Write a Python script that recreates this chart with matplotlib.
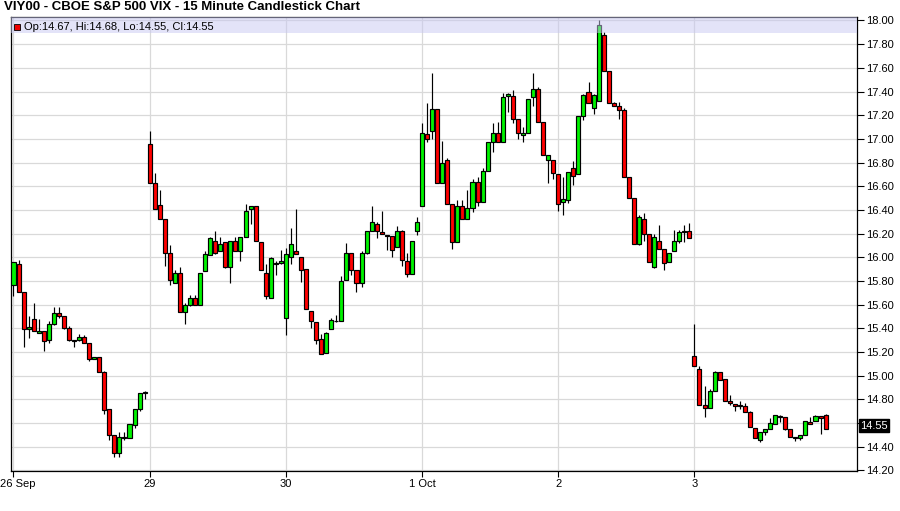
import matplotlib
matplotlib.use('Agg')
import matplotlib.pyplot as plt
import matplotlib.transforms as mtransforms
from matplotlib.patches import Rectangle

plt.rcParams['font.family'] = ['Liberation Sans', 'DejaVu Sans']

title = "VIY00 - CBOE S&P 500 VIX - 15 Minute Candlestick Chart"
legend_text = "Op:14.67, Hi:14.68, Lo:14.55, Cl:14.55"
day_labels = ['26 Sep', '29', '30', '1 Oct', '2', '3']
bars_per_day = 27
last_price = "14.55"

# one row per trading day (27 fifteen-minute bars each)
opens = [
    15.77, 15.94, 15.71, 15.39, 15.48, 15.36, 15.38, 15.30, 15.44, 15.53, 15.50, 15.40, 15.30, 15.30, 15.33, 15.28, 15.14, 15.16, 15.03, 14.72, 14.50, 14.35, 14.48, 14.47, 14.58, 14.72, 14.85,
    16.96, 16.63, 16.44, 16.32, 16.04, 15.78, 15.87, 15.54, 15.60, 15.66, 15.60, 15.88, 16.02, 16.14, 16.05, 16.13, 15.92, 16.14, 16.05, 16.17, 16.41, 16.43, 16.13, 15.87, 15.66, 15.95, 15.95,
    15.49, 16.00, 16.05, 16.00, 15.90, 15.55, 15.45, 15.31, 15.19, 15.39, 15.46, 15.46, 15.81, 16.04, 15.89, 15.78, 16.04, 16.22, 16.28, 16.21, 16.19, 16.18, 16.09, 16.22, 15.97, 15.86, 16.22,
    16.43, 17.04, 17.07, 17.25, 16.63, 16.82, 16.45, 16.13, 16.43, 16.32, 16.42, 16.64, 16.47, 16.73, 16.97, 17.05, 16.97, 17.36, 17.36, 17.17, 17.03, 17.05, 17.35, 17.42, 17.14, 16.82, 16.82,
    16.70, 16.47, 16.48, 16.75, 16.70, 17.19, 17.40, 17.26, 17.32, 17.88, 17.57, 17.30, 17.28, 17.24, 16.68, 16.50, 16.11, 16.32, 16.20, 15.92, 16.14, 16.07, 15.96, 16.05, 16.14, 16.21, 16.22,
    15.17, 15.06, 14.75, 14.73, 14.87, 15.03, 14.97, 14.79, 14.76, 14.75, 14.74, 14.69, 14.56, 14.46, 14.52, 14.55, 14.59, 14.66, 14.65, 14.55, 14.48, 14.47, 14.50, 14.61, 14.62, 14.66, 14.67,
]
highs = [
    15.96, 15.98, 15.71, 15.50, 15.61, 15.48, 15.38, 15.46, 15.58, 15.58, 15.50, 15.42, 15.30, 15.35, 15.34, 15.28, 15.16, 15.16, 15.04, 14.72, 14.50, 14.52, 14.52, 14.59, 14.72, 14.85, 14.87,
    17.07, 16.71, 16.57, 16.32, 16.10, 15.89, 15.92, 15.61, 15.68, 15.68, 15.87, 16.05, 16.17, 16.22, 16.17, 16.13, 16.14, 16.17, 16.17, 16.45, 16.43, 16.43, 16.13, 15.94, 16.00, 15.97, 16.06,
    16.08, 16.25, 16.41, 16.00, 15.90, 15.55, 15.45, 15.35, 15.37, 15.49, 15.51, 15.84, 16.12, 16.04, 15.89, 16.05, 16.22, 16.43, 16.30, 16.39, 16.19, 16.18, 16.26, 16.23, 16.04, 16.14, 16.34,
    17.13, 17.30, 17.56, 17.25, 16.98, 16.84, 16.45, 16.48, 16.48, 16.57, 16.66, 16.68, 16.75, 16.97, 17.13, 17.14, 17.39, 17.39, 17.41, 17.17, 17.10, 17.34, 17.56, 17.44, 17.14, 16.86, 16.82,
    16.70, 16.68, 16.72, 16.81, 17.19, 17.38, 17.48, 17.38, 18.00, 17.90, 17.57, 17.31, 17.31, 17.26, 16.68, 16.50, 16.36, 16.37, 16.20, 16.20, 16.27, 16.07, 16.04, 16.23, 16.23, 16.27, 16.29,
    15.44, 15.08, 14.91, 14.89, 15.04, 15.03, 14.97, 14.84, 14.76, 14.79, 14.77, 14.70, 14.56, 14.52, 14.55, 14.64, 14.67, 14.67, 14.65, 14.55, 14.48, 14.50, 14.62, 14.65, 14.67, 14.66, 14.68,
]
lows = [
    15.67, 15.71, 15.24, 15.32, 15.38, 15.36, 15.21, 15.28, 15.43, 15.49, 15.39, 15.29, 15.24, 15.29, 15.28, 15.12, 15.14, 15.03, 14.68, 14.46, 14.31, 14.31, 14.46, 14.47, 14.56, 14.70, 14.80,
    16.63, 16.41, 16.32, 15.93, 15.77, 15.78, 15.54, 15.44, 15.59, 15.60, 15.60, 15.88, 16.02, 16.03, 16.05, 15.91, 15.78, 16.05, 15.97, 16.17, 16.28, 16.14, 15.89, 15.65, 15.66, 15.85, 15.94,
    15.34, 15.94, 16.03, 15.79, 15.56, 15.40, 15.27, 15.18, 15.19, 15.39, 15.45, 15.46, 15.81, 15.85, 15.71, 15.75, 16.03, 16.22, 16.16, 16.20, 16.06, 16.00, 16.09, 15.93, 15.83, 15.86, 16.19,
    16.43, 16.97, 17.00, 16.63, 16.63, 16.45, 16.07, 16.13, 16.32, 16.32, 16.38, 16.43, 16.47, 16.73, 16.89, 16.97, 16.97, 17.23, 17.13, 17.00, 16.97, 17.05, 17.28, 17.14, 16.86, 16.63, 16.66,
    16.39, 16.36, 16.46, 16.61, 16.70, 17.16, 17.30, 17.21, 17.32, 17.57, 17.30, 17.28, 17.17, 16.68, 16.50, 16.11, 16.10, 16.14, 15.96, 15.91, 16.07, 15.89, 15.96, 16.05, 16.12, 16.13, 16.16,
    15.08, 14.75, 14.65, 14.73, 14.87, 14.96, 14.79, 14.75, 14.70, 14.72, 14.69, 14.57, 14.47, 14.44, 14.50, 14.55, 14.59, 14.61, 14.54, 14.48, 14.45, 14.46, 14.50, 14.59, 14.62, 14.51, 14.55,
]
closes = [
    15.96, 15.71, 15.39, 15.41, 15.38, 15.38, 15.29, 15.44, 15.53, 15.50, 15.40, 15.30, 15.29, 15.33, 15.28, 15.14, 15.16, 15.03, 14.71, 14.50, 14.35, 14.48, 14.47, 14.59, 14.72, 14.85, 14.86,
    16.63, 16.41, 16.32, 16.04, 15.81, 15.87, 15.54, 15.60, 15.66, 15.60, 15.87, 16.03, 16.16, 16.04, 16.11, 15.92, 16.14, 16.05, 16.17, 16.39, 16.43, 16.14, 15.89, 15.67, 15.99, 15.94, 15.97,
    16.03, 16.11, 16.03, 15.89, 15.56, 15.46, 15.30, 15.18, 15.36, 15.47, 15.46, 15.80, 16.04, 15.89, 15.78, 16.04, 16.22, 16.30, 16.22, 16.20, 16.18, 16.06, 16.22, 15.98, 15.86, 16.14, 16.30,
    17.05, 17.00, 17.25, 16.63, 16.80, 16.45, 16.13, 16.43, 16.32, 16.42, 16.64, 16.47, 16.73, 16.97, 17.05, 16.97, 17.35, 17.38, 17.17, 17.05, 17.05, 17.34, 17.42, 17.14, 16.86, 16.86, 16.71,
    16.45, 16.49, 16.72, 16.69, 17.19, 17.37, 17.30, 17.37, 17.96, 17.57, 17.30, 17.28, 17.24, 16.68, 16.50, 16.11, 16.34, 16.20, 15.96, 16.17, 16.07, 15.95, 16.04, 16.14, 16.21, 16.22, 16.16,
    15.08, 14.75, 14.73, 14.87, 15.03, 14.96, 14.79, 14.77, 14.74, 14.74, 14.69, 14.57, 14.47, 14.52, 14.55, 14.60, 14.67, 14.65, 14.55, 14.48, 14.47, 14.50, 14.62, 14.59, 14.66, 14.64, 14.55,
]

W, H = 900, 511
fig = plt.figure(figsize=(W / 100, H / 100), dpi=100)
left_px, right_px, top_px, bot_px = 10.7, 856.7, 17.3, 470.5
ax = fig.add_axes([left_px / W, 1 - bot_px / H, (right_px - left_px) / W, (bot_px - top_px) / H])

GREEN = '#00f200'
RED = '#ff0000'
lw = 0.85
for i, (o, h, l, c) in enumerate(zip(opens, highs, lows, closes)):
    up = c >= o
    lo_b, hi_b = min(o, c), max(o, c)
    ax.vlines(i, min(l, lo_b), max(h, hi_b), color='black', linewidth=lw, zorder=3)
    ax.bar(i, hi_b - lo_b, bottom=lo_b, width=0.8, color=GREEN if up else RED,
           edgecolor='black', linewidth=lw, zorder=4)

ax.set_xlim(-0.555, 167.17)
ax.set_ylim(14.199, 18.027)

yt = [round(14.2 + 0.2 * k, 2) for k in range(20)]
ax.set_yticks(yt)
ax.set_yticklabels(['' if abs(v - 14.6) < 1e-6 else f'{v:.2f}' for v in yt])
ax.yaxis.tick_right()
ax.tick_params(axis='y', which='both', direction='out', length=5, width=0.8, pad=1.5,
               labelsize=8, colors='black')

xt = [d * bars_per_day for d in range(len(day_labels))]
ax.set_xticks(xt)
ax.set_xticklabels(day_labels)
ax.tick_params(axis='x', direction='out', length=4, width=0.8, pad=2, labelsize=8)
first = ax.get_xticklabels()[0]
first.set_ha('left')
first.set_transform(first.get_transform() +
                    mtransforms.ScaledTranslation(-13 / 100, 0, fig.dpi_scale_trans))

ax.grid(True, color='#d9d9d9', linewidth=0.9, zorder=0)
ax.set_axisbelow(True)
for s in ax.spines.values():
    s.set_color('black')
    s.set_linewidth(0.9)

# legend band over the plot
band_h = 16 / (bot_px - top_px)
ax.add_patch(Rectangle((0, 1 - band_h), 1, band_h, transform=ax.transAxes,
                       facecolor='#c8c8f2', alpha=0.5, edgecolor='none', zorder=6))
fig.patches.append(Rectangle((14 / W, 1 - 30 / H), 6 / W, 6 / H, transform=fig.transFigure,
                             facecolor='#ee0000', edgecolor='black', linewidth=0.6, zorder=7))
fig.text(24 / W, 1 - 26.5 / H, legend_text, fontsize=8, va='center', ha='left', zorder=8)

fig.text(4 / W, 1 - 7.5 / H, title, fontsize=9.5, fontweight='bold', va='center', ha='left')

# last price marker
ax.text(1.0 + 3.5 / (right_px - left_px), 14.578, last_price, transform=ax.get_yaxis_transform(),
        fontsize=8, color='white', va='center', ha='left', clip_on=False,
        bbox=dict(boxstyle='square,pad=0.12', facecolor='black', edgecolor='black'))

fig.savefig('out.png', dpi=100)
